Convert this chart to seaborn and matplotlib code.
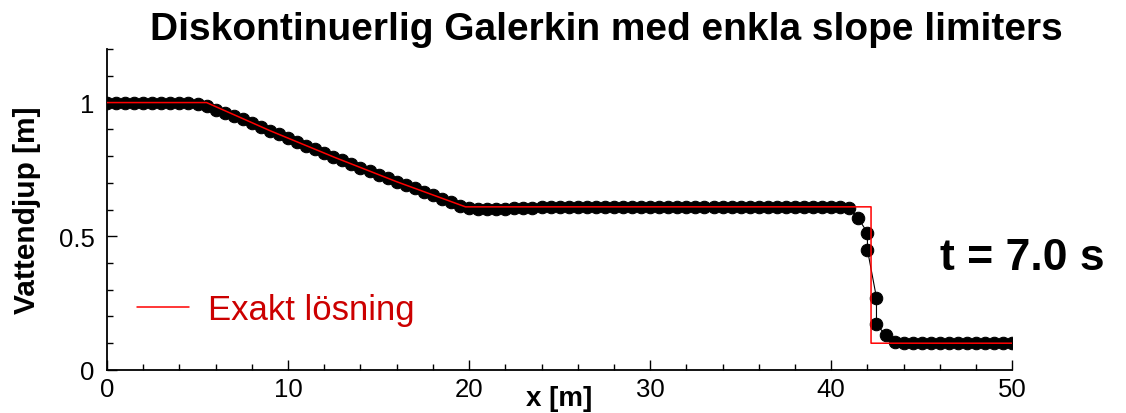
import numpy as np
import seaborn as sns
from matplotlib import pyplot as plt
from matplotlib.ticker import MultipleLocator

# %% Data

# DG solution, points every 0.5 m (double nodes at the shock)
xLeft = np.arange(0, 41.75, 0.5)
xShock = [42.0, 42.0, 42.5, 42.5]
xRight = np.arange(43.0, 50.25, 0.5)
xNum = np.concatenate([xLeft, xShock, xRight])

hNum = [1.0, 1.0, 1.0, 1.0, 1.0, 1.0, 1.0, 1.0, 1.0,
        0.998, 0.994, 0.986, 0.974, 0.960,
        0.950, 0.937, 0.923, 0.909, 0.895, 0.881, 0.867, 0.853, 0.839,
        0.825, 0.811, 0.797, 0.784, 0.770, 0.757, 0.743, 0.730, 0.717,
        0.704, 0.691, 0.679, 0.666, 0.654, 0.641, 0.628, 0.615,
        0.606, 0.602, 0.601, 0.602, 0.603, 0.605, 0.606, 0.607, 0.608, 0.609,
        0.61, 0.61, 0.61, 0.61, 0.61, 0.61, 0.61, 0.61,
        0.61, 0.61, 0.61, 0.61, 0.61, 0.61, 0.61, 0.61,
        0.61, 0.61, 0.61, 0.61, 0.61, 0.61, 0.61, 0.61,
        0.61, 0.61, 0.61, 0.61, 0.61, 0.61, 0.61, 0.61,
        0.606, 0.567,
        0.513, 0.450, 0.270, 0.173,
        0.129, 0.106,
        0.1, 0.1, 0.1, 0.1, 0.1, 0.1, 0.1, 0.1, 0.1, 0.1, 0.1, 0.1, 0.1]

# exact solution (corners of the red curve)
xExact = [0.0, 5.5, 9.0, 12.65, 16.0, 19.8, 42.2, 42.2, 50.0]
hExact = [1.0, 1.0, 0.895, 0.793, 0.704, 0.61, 0.61, 0.10, 0.10]

# %% Plot

sns.set_style('ticks')
plt.rcParams['font.family'] = ['Liberation Sans', 'DejaVu Sans']
plt.rcParams['text.color'] = 'k'
plt.rcParams['axes.labelcolor'] = 'k'
plt.rcParams['xtick.color'] = 'k'
plt.rcParams['ytick.color'] = 'k'

fig = plt.figure(figsize=(11.26, 4.14), dpi=100)
ax = fig.add_axes([0.095, 0.104, 0.804, 0.775])

sns.lineplot(x=xNum, y=hNum, ax=ax, estimator=None, sort=False,
             color='k', linewidth=0.8, marker='o', markersize=9,
             markeredgecolor='k', markerfacecolor='k', zorder=2)
sns.lineplot(x=xExact, y=hExact, ax=ax, estimator=None, sort=False,
             color='red', linewidth=1.1, zorder=3, label='Exakt lösning')

ax.set_xlim(0, 50)
ax.set_ylim(0, 1.2)
ax.xaxis.set_major_locator(MultipleLocator(10))
ax.xaxis.set_minor_locator(MultipleLocator(2))
ax.yaxis.set_major_locator(MultipleLocator(0.5))
ax.yaxis.set_minor_locator(MultipleLocator(0.1))
ax.set_yticks([0, 0.5, 1])
ax.set_yticklabels(['0', '0.5', '1'])
ax.tick_params(which='major', direction='in', length=7, width=1.0,
               labelsize=18.5, color='k', labelcolor='k')
ax.tick_params(which='minor', direction='in', length=4.3, width=1.0, color='k')
ax.tick_params(axis='y', pad=9)
ax.tick_params(axis='x', pad=5)
for s in ('left', 'bottom'):
    ax.spines[s].set_linewidth(1.3)
    ax.spines[s].set_color('k')
sns.despine(ax=ax)

ax.set_xlabel('x [m]', fontsize=20, fontweight='bold', va='center', color='k')
ax.xaxis.set_label_coords(0.5, -0.088)
ax.set_ylabel('Vattendjup [m]', fontsize=21.5, fontweight='bold',
              va='center', color='k')
ax.yaxis.set_label_coords(-0.088, 0.5)

ax.legend(loc='center left', bbox_to_anchor=(0.018, 0.187), frameon=False,
          fontsize=25, labelcolor='#cc0000', handlelength=1.5,
          handletextpad=0.55, borderaxespad=0)

fig.text(606 / 1126, 1 - 40 / 414,
         'Diskontinuerlig Galerkin med enkla slope limiters',
         ha='center', va='baseline', fontsize=28, fontweight='bold')
fig.text(940 / 1126, 1 - 259 / 414, 't = 7.0 s',
         ha='left', va='center', fontsize=32, fontweight='bold')

fig.savefig('out.png', dpi=100)
